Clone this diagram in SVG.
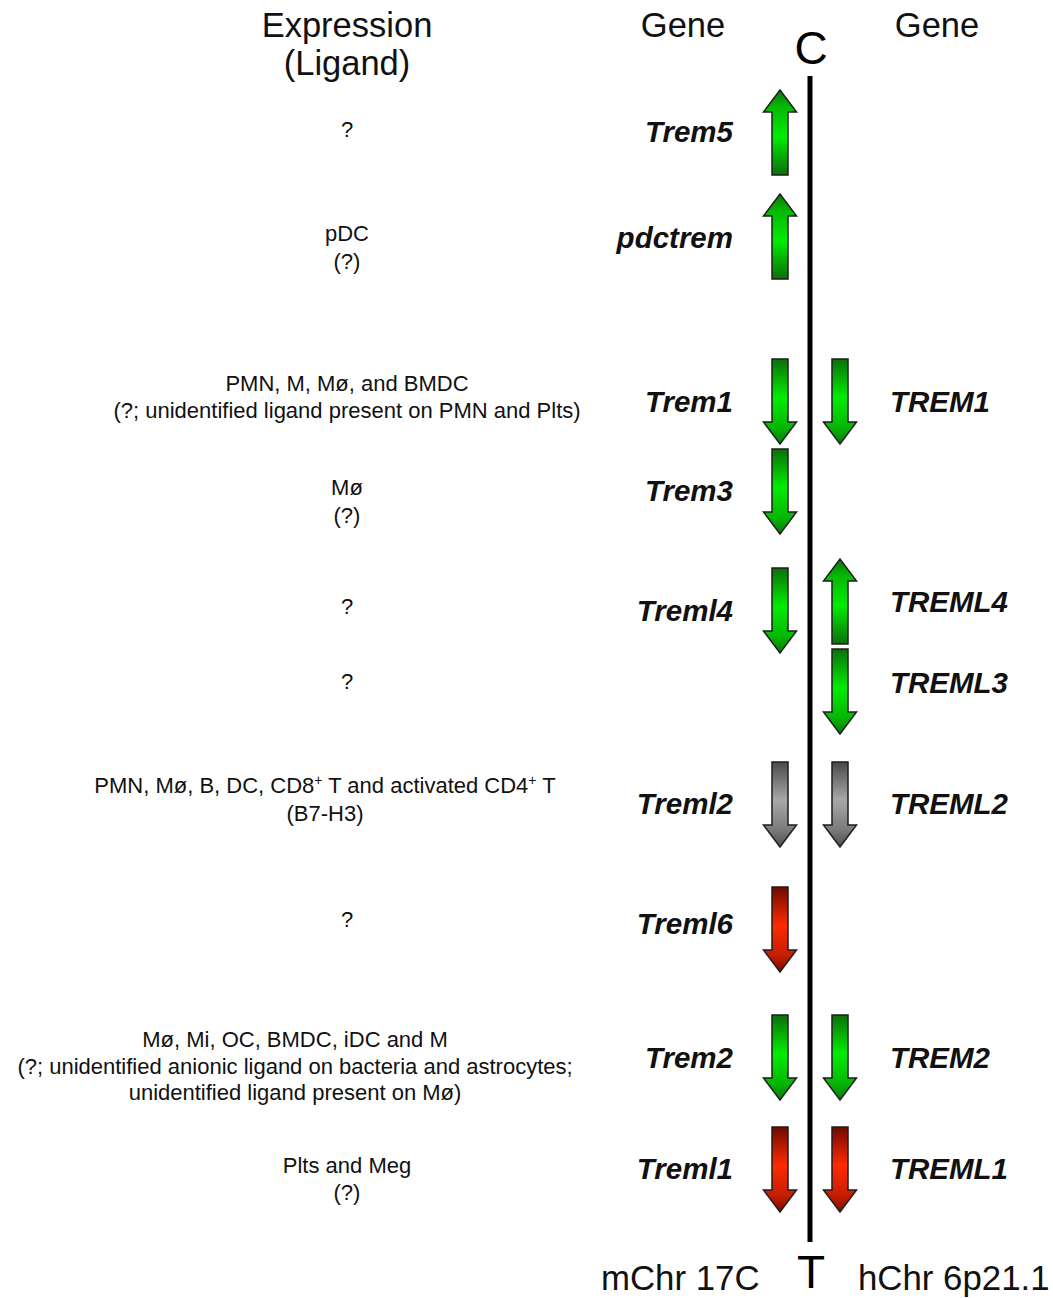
<svg xmlns="http://www.w3.org/2000/svg" width="1053" height="1298" viewBox="0 0 1053 1298">
  <style>
    .hdr { font-family: "Liberation Sans", Arial, sans-serif; font-size: 34.5px; fill: #111; text-anchor: middle; }
    .big { font-family: "Liberation Sans", Arial, sans-serif; font-size: 46px; fill: #000; text-anchor: middle; }
    .chr { font-family: "Liberation Sans", Arial, sans-serif; font-size: 34.8px; fill: #111; }
    .expr { font-family: "Liberation Sans", Arial, sans-serif; font-size: 22px; fill: #111; text-anchor: middle; }
    .gm { font-family: "Liberation Sans", Arial, sans-serif; font-size: 29.5px; font-weight: bold; font-style: italic; fill: #111; text-anchor: end; }
    .gh { font-family: "Liberation Sans", Arial, sans-serif; font-size: 29.5px; font-weight: bold; font-style: italic; fill: #111; text-anchor: start; }
    .arrow { stroke: #1e1e1e; stroke-width: 1.5; stroke-linejoin: miter; }
    .green { fill: url(#gGreen); }
    .grey { fill: url(#gGrey); }
    .red { fill: url(#gRed); }
  </style>
  <defs>
    <!-- shading runs tail (dark) -> middle (bright) -> head -->
    <linearGradient id="gGreen" x1="0" y1="0" x2="0" y2="1">
      <stop offset="0" stop-color="#0b6e0b"/>
      <stop offset="0.45" stop-color="#00ee00"/>
      <stop offset="0.8" stop-color="#05b805"/>
      <stop offset="1" stop-color="#0a7a0a"/>
    </linearGradient>
    <linearGradient id="gGrey" x1="0" y1="0" x2="0" y2="1">
      <stop offset="0" stop-color="#4a4a4a"/>
      <stop offset="0.45" stop-color="#a8a8a8"/>
      <stop offset="0.8" stop-color="#7a7a7a"/>
      <stop offset="1" stop-color="#505050"/>
    </linearGradient>
    <linearGradient id="gRed" x1="0" y1="0" x2="0" y2="1">
      <stop offset="0" stop-color="#6e0a00"/>
      <stop offset="0.45" stop-color="#ff2a00"/>
      <stop offset="0.8" stop-color="#c81e00"/>
      <stop offset="1" stop-color="#7a1000"/>
    </linearGradient>
    <!-- block arrow pointing down, origin at tail centre -->
    <path id="blk" d="M-8,0 H8 V63 H16.5 L0,85 L-16.5,63 H-8 Z"/>
  </defs>

  <rect width="1053" height="1298" fill="#fff"/>

  <!-- column headings -->
  <g id="headings">
    <text class="hdr" x="347" y="37">Expression</text>
    <text class="hdr" x="347" y="75">(Ligand)</text>
    <text class="hdr" x="683" y="37">Gene</text>
    <text class="hdr" x="937" y="37">Gene</text>
  </g>

  <!-- chromosome axis -->
  <g id="connectors">
    <line x1="810" y1="76" x2="810" y2="1242" stroke="#000" stroke-width="5"/>
  </g>
  <g id="axis-labels">
    <text class="big" x="811" y="64">C</text>
    <text class="big" x="811" y="1288">T</text>
    <text class="chr" x="601" y="1290">mChr 17C</text>
    <text class="chr" x="858" y="1290">hChr 6p21.1</text>
  </g>

  <g id="trem5">
    <text class="expr" x="347" y="137">?</text>
    <text class="gm" x="733" y="142">Trem5</text>
    <use href="#blk" class="arrow green" transform="translate(780,175) rotate(180)"/>
  </g>

  <g id="pdctrem">
    <text class="expr" x="347" y="241">pDC</text>
    <text class="expr" x="347" y="269">(?)</text>
    <text class="gm" x="733" y="248">pdctrem</text>
    <use href="#blk" class="arrow green" transform="translate(780,279) rotate(180)"/>
  </g>

  <g id="trem1">
    <text class="expr" x="347" y="391">PMN, M, Mø, and BMDC</text>
    <text class="expr" x="347" y="418">(?; unidentified ligand present on PMN and Plts)</text>
    <text class="gm" x="733" y="412">Trem1</text>
    <use href="#blk" class="arrow green" transform="translate(780,359)"/>
    <text class="gh" x="890" y="412">TREM1</text>
    <use href="#blk" class="arrow green" transform="translate(840,359)"/>
  </g>

  <g id="trem3">
    <text class="expr" x="347" y="495">Mø</text>
    <text class="expr" x="347" y="523">(?)</text>
    <text class="gm" x="733" y="501">Trem3</text>
    <use href="#blk" class="arrow green" transform="translate(780,449)"/>
  </g>

  <g id="treml4">
    <text class="expr" x="347" y="614">?</text>
    <text class="gm" x="733" y="621">Treml4</text>
    <use href="#blk" class="arrow green" transform="translate(780,568)"/>
    <text class="gh" x="890" y="612">TREML4</text>
    <use href="#blk" class="arrow green" transform="translate(840,644) rotate(180)"/>
  </g>

  <g id="treml3">
    <text class="expr" x="347" y="689">?</text>
    <text class="gh" x="890" y="693">TREML3</text>
    <use href="#blk" class="arrow green" transform="translate(840,649)"/>
  </g>

  <g id="treml2">
    <text class="expr" x="325" y="793">PMN, Mø, B, DC, CD8<tspan dy="-8" font-size="14">+</tspan><tspan dy="8"> T and activated CD4</tspan><tspan dy="-8" font-size="14">+</tspan><tspan dy="8"> T</tspan></text>
    <text class="expr" x="325" y="821">(B7-H3)</text>
    <text class="gm" x="733" y="814">Treml2</text>
    <use href="#blk" class="arrow grey" transform="translate(780,762)"/>
    <text class="gh" x="890" y="814">TREML2</text>
    <use href="#blk" class="arrow grey" transform="translate(840,762)"/>
  </g>

  <g id="treml6">
    <text class="expr" x="347" y="927">?</text>
    <text class="gm" x="733" y="934">Treml6</text>
    <use href="#blk" class="arrow red" transform="translate(780,887)"/>
  </g>

  <g id="trem2">
    <text class="expr" x="295" y="1047">Mø, Mi, OC, BMDC, iDC and M</text>
    <text class="expr" x="295" y="1074">(?; unidentified anionic ligand on bacteria and astrocytes;</text>
    <text class="expr" x="295" y="1100">unidentified ligand present on Mø)</text>
    <text class="gm" x="733" y="1068">Trem2</text>
    <use href="#blk" class="arrow green" transform="translate(780,1015)"/>
    <text class="gh" x="890" y="1068">TREM2</text>
    <use href="#blk" class="arrow green" transform="translate(840,1015)"/>
  </g>

  <g id="treml1">
    <text class="expr" x="347" y="1173">Plts and Meg</text>
    <text class="expr" x="347" y="1200">(?)</text>
    <text class="gm" x="733" y="1179">Treml1</text>
    <use href="#blk" class="arrow red" transform="translate(780,1127)"/>
    <text class="gh" x="890" y="1179">TREML1</text>
    <use href="#blk" class="arrow red" transform="translate(840,1127)"/>
  </g>
</svg>
